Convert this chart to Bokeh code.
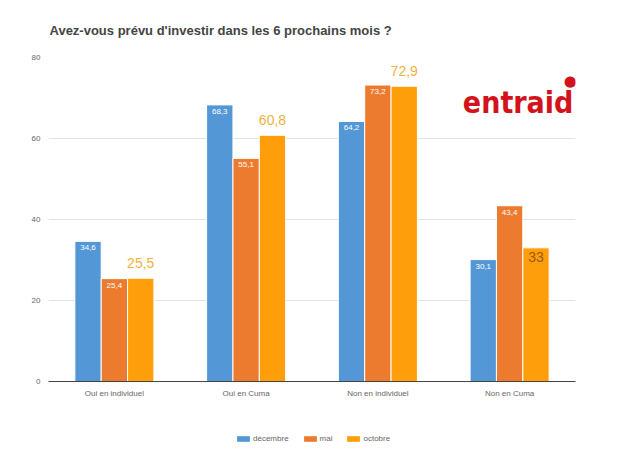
from bokeh.plotting import figure
from bokeh.layouts import column
from bokeh.models import (ColumnDataSource, FactorRange, Legend, LegendItem, Label,
                          FixedTicker, Range1d)
from bokeh.transform import dodge
from bokeh.core.properties import value
from bokeh.embed import file_html
from bokeh.resources import INLINE

# ---------------- data ----------------
title_text = "Avez-vous prévu d'investir dans les 6 prochains mois ?"
categories = ["Oui en individuel", "Oui en Cuma", "Non en individuel", "Non en Cuma"]
series_names = ["décembre", "mai", "octobre"]
decembre = [34.6, 68.3, 64.2, 30.1]
mai = [25.4, 55.1, 73.2, 43.4]
octobre = [25.5, 60.8, 72.9, 33]
y_ticks = [0, 20, 40, 60, 80]
logo_text = "entraid"


def fmt(v):
    return ("%g" % v).replace(".", ",")


# ---------------- styles ----------------
colors = ["#5497d6", "#ec7b30", "#ff9e0b"]
FONT = "Liberation Sans"
oct_label_inside = [False, False, False, True]

src = ColumnDataSource(dict(
    cat=categories,
    decembre=decembre,
    mai=mai,
    octobre=octobre,
    lbl_dec=[fmt(v) for v in decembre],
    lbl_mai=[fmt(v) for v in mai],
))
out_idx = [i for i, f in enumerate(oct_label_inside) if not f]
in_idx = [i for i, f in enumerate(oct_label_inside) if f]
src_oct_out = ColumnDataSource(dict(cat=[categories[i] for i in out_idx],
                                    octobre=[octobre[i] for i in out_idx],
                                    lbl=[fmt(octobre[i]) for i in out_idx]))
src_oct_in = ColumnDataSource(dict(cat=[categories[i] for i in in_idx],
                                   octobre=[octobre[i] for i in in_idx],
                                   lbl=[fmt(octobre[i]) for i in in_idx]))

p = figure(x_range=FactorRange(*categories, range_padding=0),
           y_range=Range1d(0, 80),
           width=620, height=424,
           output_backend="svg", toolbar_location=None,
           min_border_left=48, min_border_right=45,
           min_border_top=57, min_border_bottom=43)

p.title.text = title_text
p.title.text_font = FONT
p.title.text_font_size = "13px"
p.title.text_font_style = "bold"
p.title.text_color = "#444444"
p.title.offset = 1
p.title.standoff = 39

fields = ["decembre", "mai", "octobre"]
offsets = [-0.2, 0.0, 0.2]
renderers = []
for f, off, c in zip(fields, offsets, colors):
    r = p.vbar(x=dodge("cat", off, range=p.x_range), top=f, width=0.2, source=src,
               fill_color=c, line_color="white", line_width=1)
    renderers.append(r)

# small white labels inside decembre / mai bars
for f, lbl, off in [("decembre", "lbl_dec", -0.2), ("mai", "lbl_mai", 0.0)]:
    p.text(x=dodge("cat", off, range=p.x_range), y=f, text=lbl, source=src,
           text_color="white", text_font=value(FONT), text_font_size="8px",
           text_align="center", text_baseline="top", y_offset=4)

# octobre labels
p.text(x=dodge("cat", 0.2, range=p.x_range), y="octobre", text="lbl", source=src_oct_out,
       text_color="#f0b23e", text_font=value(FONT), text_font_size="14px",
       text_align="center", text_baseline="alphabetic", y_offset=-15)
p.text(x=dodge("cat", 0.2, range=p.x_range), y="octobre", text="lbl", source=src_oct_in,
       text_color="#9a5b12", text_font=value(FONT), text_font_size="14px",
       text_align="center", text_baseline="top", y_offset=4)

# axes
p.yaxis.ticker = FixedTicker(ticks=y_ticks)
p.yaxis.axis_line_color = None
p.yaxis.major_tick_line_color = None
p.yaxis.minor_tick_line_color = None
p.yaxis.major_tick_out = 0
p.yaxis.major_tick_in = 0
p.yaxis.major_label_text_font = FONT
p.yaxis.major_label_text_font_size = "8px"
p.yaxis.major_label_text_color = "#666666"
p.yaxis.major_label_standoff = 8

p.xaxis.axis_line_color = "#444444"
p.xaxis.major_tick_line_color = None
p.xaxis.minor_tick_line_color = None
p.xaxis.major_tick_out = 0
p.xaxis.major_tick_in = 0
p.xaxis.major_label_text_font = FONT
p.xaxis.major_label_text_font_size = "8px"
p.xaxis.major_label_text_color = "#666666"
p.xaxis.major_label_standoff = 7

p.xgrid.grid_line_color = None
p.ygrid.grid_line_color = "#e3e3e3"
p.outline_line_color = None

# logo
p.add_layout(Label(x=3.145, y=68.8, text=logo_text, text_font="DejaVu Sans Condensed",
                   text_font_size="30px", text_font_style="bold", text_color="#d3121b",
                   text_baseline="alphabetic"))
p.add_layout(Label(x=3.96, y=74.3, text="\u25cf", text_font="DejaVu Sans",
                   text_font_size="15px", text_color="#d3121b",
                   text_align="center", text_baseline="middle"))

# legend strip (separate small figure below the chart)
lf = figure(width=620, height=30, x_range=Range1d(0, 1), y_range=Range1d(0, 1),
            output_backend="svg", toolbar_location=None,
            x_axis_type=None, y_axis_type=None,
            min_border_left=0, min_border_right=0, min_border_top=0, min_border_bottom=0)
lf.outline_line_color = None
lf.xgrid.grid_line_color = None
lf.ygrid.grid_line_color = None
# zero-height bars: only provide the legend swatches' styling
leg_src = ColumnDataSource(dict(x=[0.5], top=[0], bottom=[0]))
leg_renderers = [lf.vbar(x="x", top="top", bottom="bottom", width=0.01, source=leg_src,
                         fill_color=c, line_color=None)
                 for c in colors]
legend = Legend(items=[LegendItem(label=n, renderers=[r]) for n, r in zip(series_names, leg_renderers)],
                orientation="horizontal", location=(187, 11),
                glyph_width=16, glyph_height=7, label_height=10, label_width=0,
                label_text_font=FONT, label_text_font_size="8px", label_text_color="#666666",
                spacing=13, label_standoff=2, padding=0, margin=0,
                border_line_color=None, background_fill_alpha=0)
lf.add_layout(legend)

layout = column(p, lf, spacing=0)
html = file_html(layout, INLINE)
open("out.html", "w").write(html)
